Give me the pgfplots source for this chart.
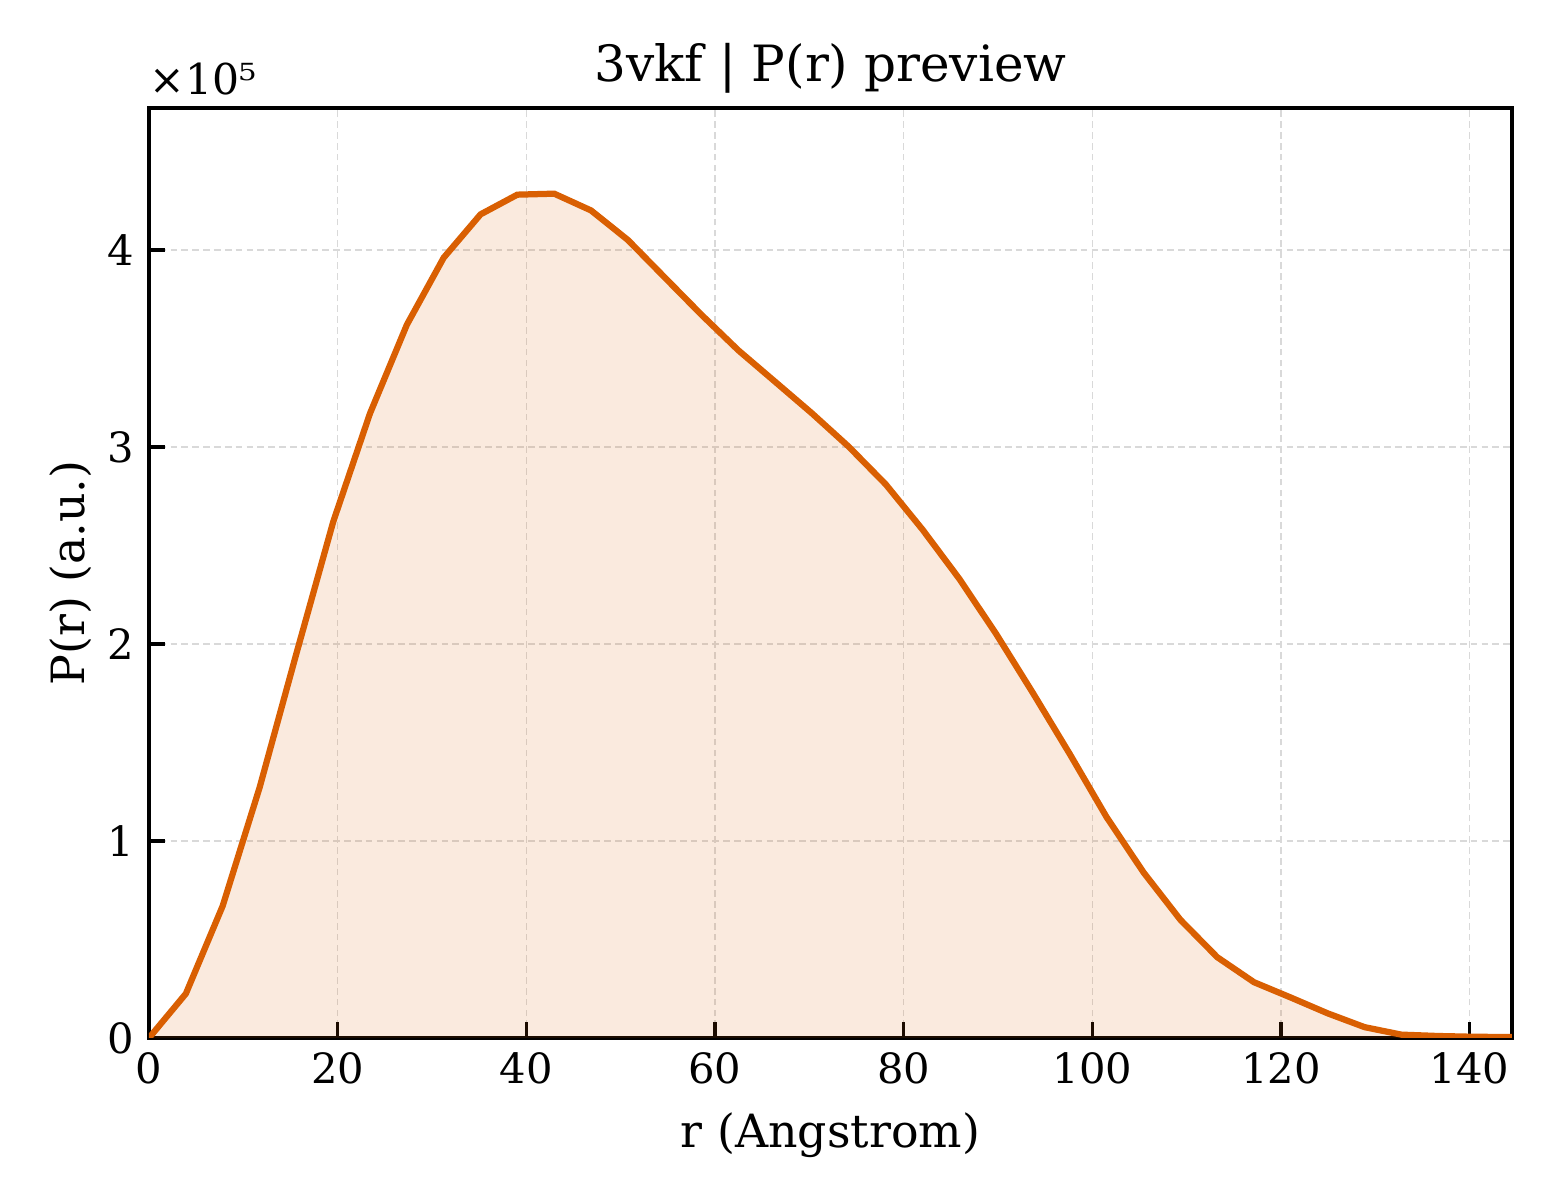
\documentclass[border=0pt]{standalone}
\usepackage{fontspec}
\setmainfont{DejaVu Serif}
\usepackage{pgfplots}
\pgfplotsset{compat=1.18}
\usepackage{pgfplotstable}
\definecolor{prline}{HTML}{D95F02}

\pgfplotstableread{
r       P
0.00    0
3.91    22500
7.81    67000
11.72   127000
15.62   195000
19.53   262000
23.43   317000
27.34   362000
31.24   396000
35.15   418000
39.05   428000
42.96   428500
46.86   420000
50.77   405000
54.67   386000
58.58   367000
62.48   349000
66.39   333000
70.29   317000
74.20   300000
78.10   281000
82.01   258000
85.91   233000
89.82   205000
93.72   175000
97.63   144000
101.53  112000
105.44  84000
109.34  60000
113.25  41000
117.15  28300
121.06  20500
124.96  12500
128.87  5500
132.77  1700
136.68  1000
140.58  600
144.49  500
}\prdata

\begin{document}
\begin{tikzpicture}
\useasboundingbox (-35.76pt,-38.88pt) rectangle (338.64pt,249.12pt);
\begin{axis}[
    scale only axis,
    width=327.1pt, height=223.2pt,
    xmin=0, xmax=144.49,
    ymin=0, ymax=472000,
    xtick={0,20,40,60,80,100,120,140},
    ytick={0,100000,200000,300000,400000},
    scaled y ticks=manual:{×10⁵}{\pgfmathparse{#1/100000}},
    every y tick scale label/.style={at={(rel axis cs:0,1)}, anchor=south west, inner sep=0pt, yshift=3pt, font=\fontsize{10.2}{12}\selectfont},
    /pgf/number format/assume math mode=true,
    tick label style={font=\fontsize{10}{12}\selectfont},
    label style={font=\fontsize{11}{13}\selectfont},
    ylabel style={xshift=0pt, yshift=-3pt},
    title style={font=\fontsize{12}{14}\selectfont, yshift=-6pt},
    title={3vkf | P(r) preview},
    xlabel={r (Angstrom)},
    ylabel={P(r) (a.u.)},
    tick align=inside,
    xtick pos=bottom, ytick pos=left,
    major tick length=3.8pt,
    axis line style={line width=0.8pt},
    every tick/.style={black, line width=0.8pt},
    grid=major,
    grid style={gray!30, line width=0.35pt, dash pattern=on 1.6pt off 1pt},
]
\addplot[draw=none, fill=prline, fill opacity=0.13] table[x=r, y=P] {\prdata} \closedcycle;
\addplot[prline, line width=1.5pt] table[x=r, y=P] {\prdata};
\end{axis}
\end{tikzpicture}
\end{document}
